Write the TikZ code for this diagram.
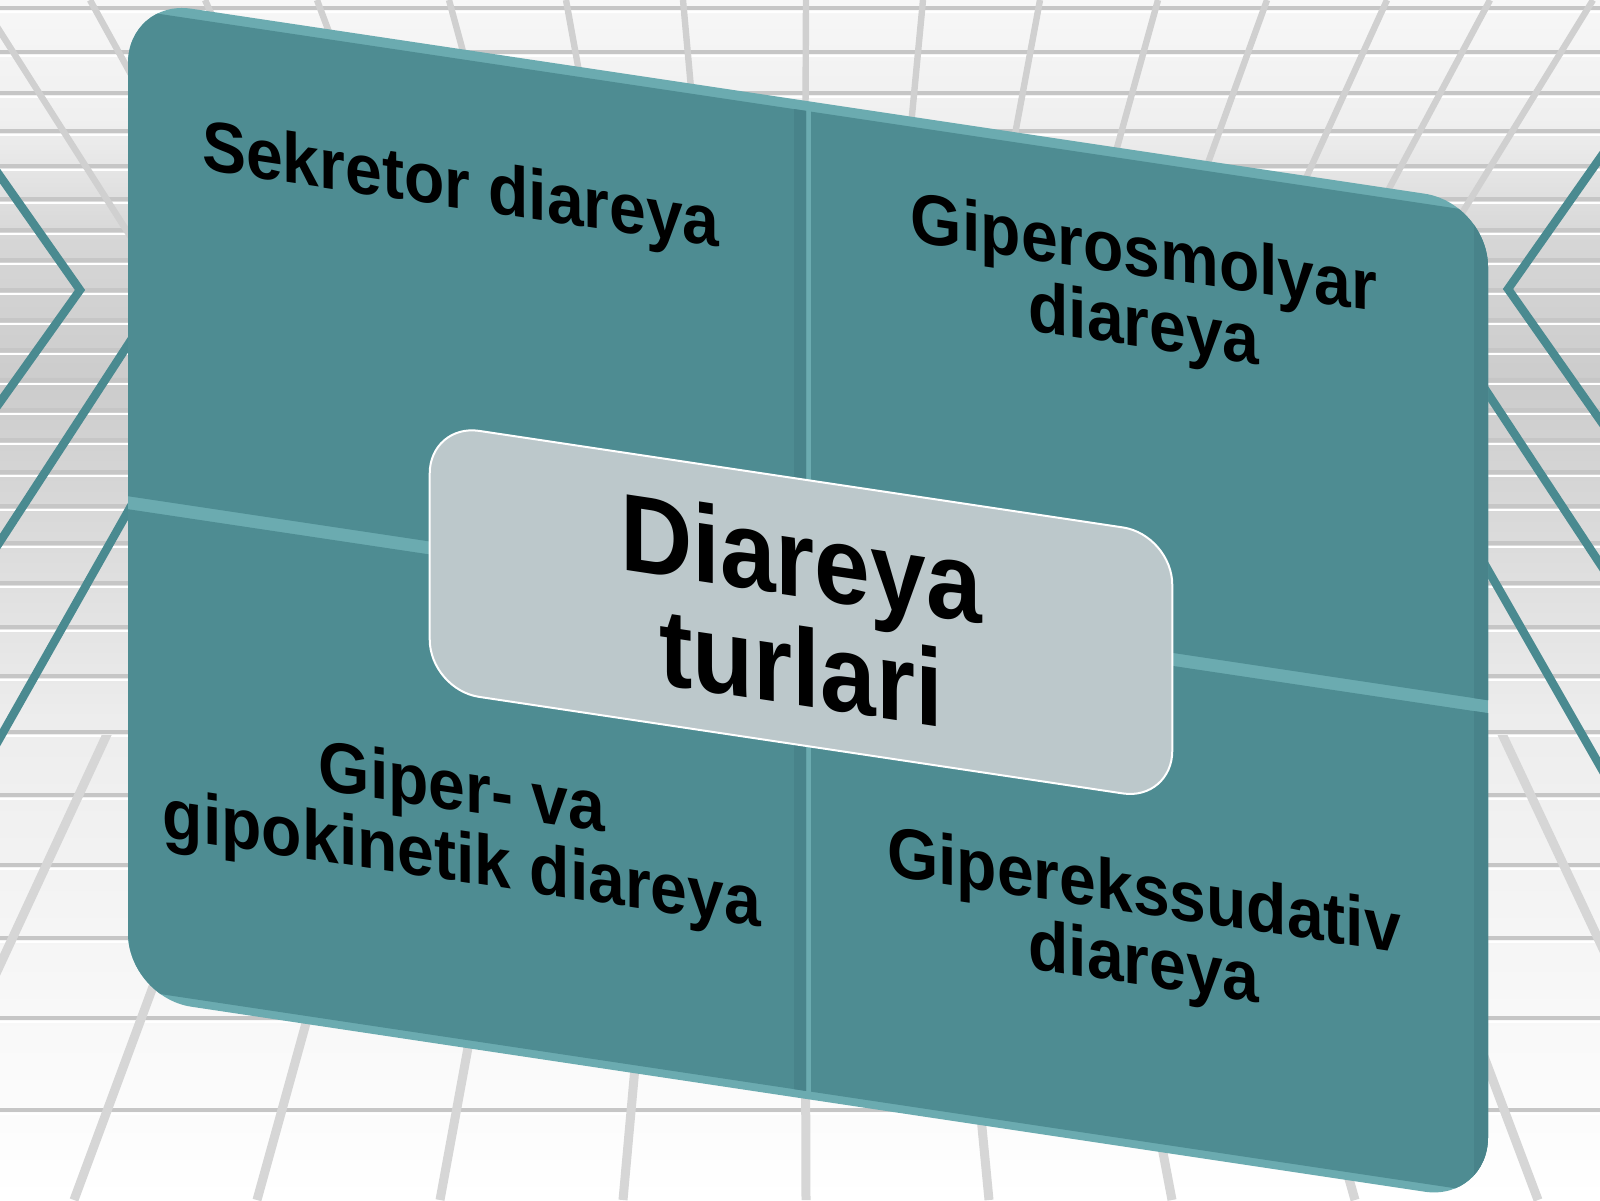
\documentclass[tikz,border=0pt]{standalone}
\usepackage{fontspec}
\setmainfont{Liberation Sans}
\definecolor{face}{HTML}{4E8C92}
\definecolor{rimc}{HTML}{6BABB0}
\definecolor{darkc}{HTML}{48838A}
\definecolor{boxc}{HTML}{BCC8CB}
\definecolor{chevc}{HTML}{4A8A90}
\definecolor{hgray}{HTML}{C6C6C6}
\definecolor{cgray}{HTML}{D0D0D0}
\definecolor{fgray}{HTML}{D6D6D6}
\pgfdeclareverticalshading{bgshade}{100bp}{color(0bp)=(white); color(25bp)=(white); color(45bp)=(white!93!black); color(52.5bp)=(white!86!black); color(59bp)=(white!80!black); color(65bp)=(white!84!black); color(70bp)=(white!94!black); color(75bp)=(white!97!black); color(100bp)=(white!97!black)}
\begin{document}
\begin{tikzpicture}[x=0.5pt,y=-0.5pt,
 hline/.style={draw=hgray,line width=1.8pt},
 hhl/.style={draw=white,line width=1.2pt},
 ceil/.style={draw=cgray,line width=3.2pt},
 floorline/.style={draw=fgray,line width=4.5pt},
 chev/.style={draw=chevc,line width=4.2pt},
 qtext/.style={font=\fontsize{35.5}{35.5}\selectfont\bfseries,align=center,inner sep=0pt,xscale=0.93,transform shape,text=black},
 ctext/.style={font=\fontsize{55}{54.5}\selectfont\bfseries,align=center,inner sep=0pt,transform shape,xscale=0.91,fill=boxc,draw=white,line width=1pt,rounded corners=25pt,minimum width=408pt,minimum height=133pt,text=black}]
\useasboundingbox (0,0) rectangle (1600,1200);
\clip (0,0) rectangle (1600,1200);
\shade[shading=bgshade] (0,0) rectangle (1600,1200);
% horizontal grid lines
\foreach \y in {8,52,93,131,166,199,230,260,290,320,350,380,410,440,472,506,543,583,627,676,732,795,865,938,1018,1110} {
  \draw[hline] (0,\y) -- (1600,\y);
  \draw[hhl] (0,\y+4) -- (1600,\y+4);
}
% ceiling lines
\begin{scope}
\clip (0,0) rectangle (1600,255);
\foreach \xa in {-20,90,205,317,449,566,683,806,923,1040,1158,1267,1387,1490,1593}
  \draw[ceil] (\xa,0) -- ({\xa+(800-(\xa))*0.2326},300);
\end{scope}
% floor lines
\begin{scope}
\clip (0,735) rectangle (1600,1200);
\foreach \xb in {-109,74,257,440,623,806,989,1172,1355,1538,1721}
  \draw[floorline] ({800+((\xb)-800)*0.7449},700) -- (\xb,1200);
\end{scope}
% chevrons
\draw[chev] (-12,159) -- (80,290) -- (-12,419);
\draw[chev] (200,234) -- (-12,560);
\draw[chev] (200,384) -- (-12,759);
\draw[chev] (1612,141) -- (1508,289) -- (1612,437);
\draw[chev] (1400,260) -- (1612,582);
\draw[chev] (1400,416) -- (1612,787);
% panel
\begin{scope}[yslant=-0.15]
 \begin{scope}
  \clip[rounded corners=32pt] (128,-20) -- (1488,-20) -- (1488,978) -- (128,978) -- cycle;
  \fill[rimc] (100,-40) -- (1500,-40) -- (1500,1000) -- (100,1000) -- cycle;
  \fill[face] (128,-10) -- (806,-10) -- (806,477) -- (128,477) -- cycle;
  \fill[darkc] (794,-10) -- (806,-10) -- (806,477) -- (794,477) -- cycle;
  \fill[face] (811,-10) -- (1500,-10) -- (1500,477) -- (811,477) -- cycle;
  \fill[darkc] (1474,-10) -- (1500,-10) -- (1500,477) -- (1474,477) -- cycle;
  \fill[face] (100,490) -- (806,490) -- (806,970) -- (100,970) -- cycle;
  \fill[darkc] (794,490) -- (806,490) -- (806,970) -- (794,970) -- cycle;
  \fill[face] (811,490) -- (1500,490) -- (1500,970) -- (811,970) -- cycle;
  \fill[darkc] (1474,490) -- (1500,490) -- (1500,970) -- (1474,970) -- cycle;
 \end{scope}
 \node[qtext] (q1) at (461,121) {Sekretor diareya};
 \node[qtext] (q2) at (1144,122) {Giperosmolyar\\diareya};
 \node[qtext] (q3) at (462,759) {Giper- va\\gipokinetik diareya};
 \node[qtext] (q4) at (1144,760) {Giperekssudativ\\diareya};
 \node[ctext] (c) at (801,492) {Diareya\\turlari};
\end{scope}
\end{tikzpicture}
\end{document}
